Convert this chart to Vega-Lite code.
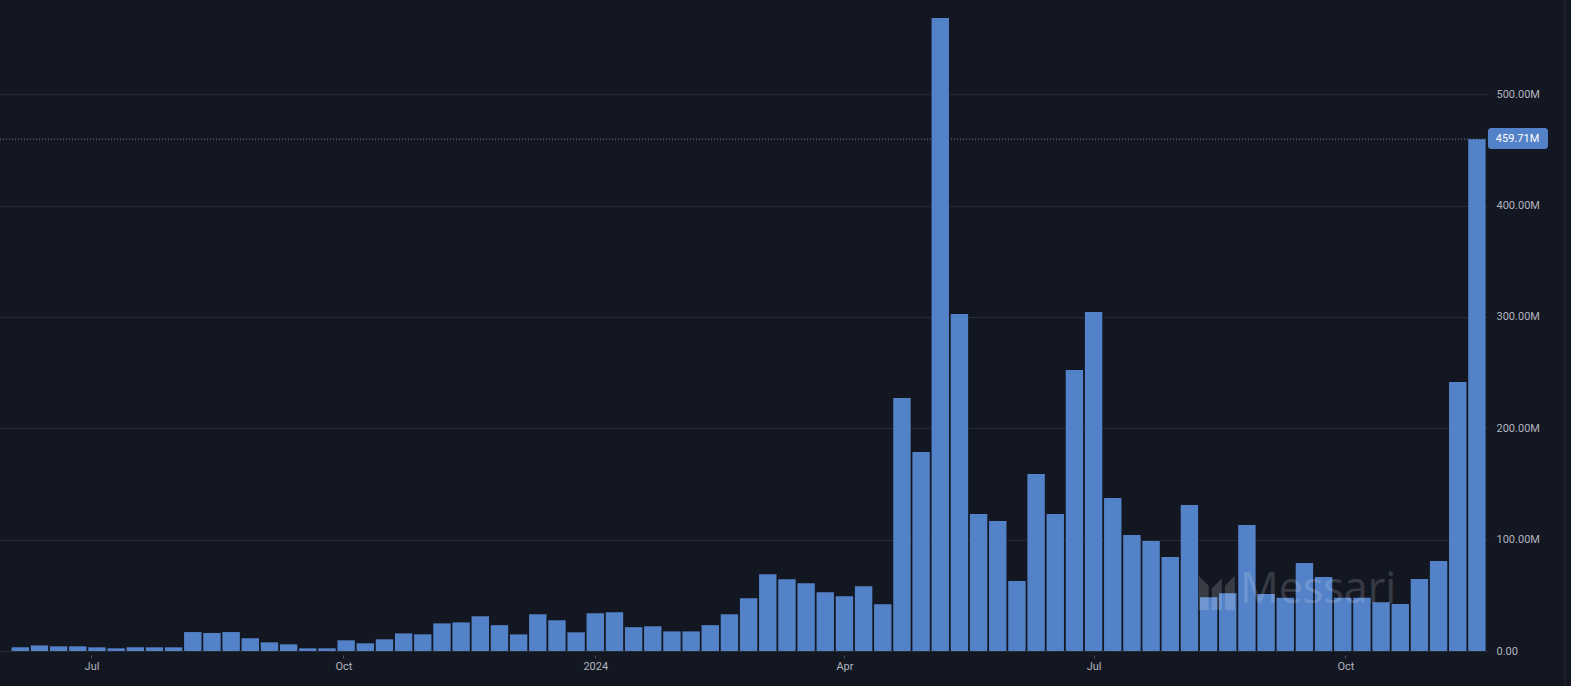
{
  "$schema": "https://vega.github.io/schema/vega-lite/v6.json",
  "width": 1489,
  "height": 651,
  "autosize": {"type": "none"},
  "padding": {"left": 0, "top": 0, "right": 82, "bottom": 35},
  "background": "#131722",
  "config": {
    "view": {"stroke": null},
    "axis": {"labelFont": "Roboto", "labelFontSize": 11, "labelColor": "#b2b5be", "title": null}
  },
  "layer": [
    {
      "data": {"values": [{"value": 459710000}]},
      "mark": {"type": "rule", "strokeDash": [1, 2], "color": "#9598a1", "opacity": 0.8, "strokeWidth": 1},
      "encoding": {"y": {"field": "value", "type": "quantitative"}}
    },
    {
      "data": {
        "values": [
          {"date": "2023-06-05", "value": 3300000},
          {"date": "2023-06-12", "value": 5000000},
          {"date": "2023-06-19", "value": 4200000},
          {"date": "2023-06-26", "value": 4200000},
          {"date": "2023-07-03", "value": 3300000},
          {"date": "2023-07-10", "value": 2400000},
          {"date": "2023-07-17", "value": 3300000},
          {"date": "2023-07-24", "value": 3300000},
          {"date": "2023-07-31", "value": 3300000},
          {"date": "2023-08-07", "value": 17000000},
          {"date": "2023-08-14", "value": 16200000},
          {"date": "2023-08-21", "value": 17000000},
          {"date": "2023-08-28", "value": 11500000},
          {"date": "2023-09-04", "value": 7800000},
          {"date": "2023-09-11", "value": 6000000},
          {"date": "2023-09-18", "value": 2400000},
          {"date": "2023-09-25", "value": 2400000},
          {"date": "2023-10-02", "value": 9600000},
          {"date": "2023-10-09", "value": 6900000},
          {"date": "2023-10-16", "value": 10500000},
          {"date": "2023-10-23", "value": 15800000},
          {"date": "2023-10-30", "value": 15000000},
          {"date": "2023-11-06", "value": 24800000},
          {"date": "2023-11-13", "value": 25700000},
          {"date": "2023-11-20", "value": 31200000},
          {"date": "2023-11-27", "value": 23200000},
          {"date": "2023-12-04", "value": 14900000},
          {"date": "2023-12-11", "value": 33000000},
          {"date": "2023-12-18", "value": 27600000},
          {"date": "2023-12-25", "value": 16800000},
          {"date": "2024-01-01", "value": 33900000},
          {"date": "2024-01-08", "value": 34800000},
          {"date": "2024-01-15", "value": 21400000},
          {"date": "2024-01-22", "value": 22200000},
          {"date": "2024-01-29", "value": 17600000},
          {"date": "2024-02-05", "value": 17600000},
          {"date": "2024-02-12", "value": 23200000},
          {"date": "2024-02-19", "value": 33000000},
          {"date": "2024-02-26", "value": 47400000},
          {"date": "2024-03-04", "value": 69000000},
          {"date": "2024-03-11", "value": 64500000},
          {"date": "2024-03-18", "value": 60900000},
          {"date": "2024-03-25", "value": 52800000},
          {"date": "2024-04-01", "value": 49200000},
          {"date": "2024-04-08", "value": 58200000},
          {"date": "2024-04-15", "value": 42000000},
          {"date": "2024-04-22", "value": 227200000},
          {"date": "2024-04-29", "value": 178700000},
          {"date": "2024-05-06", "value": 568500000},
          {"date": "2024-05-13", "value": 302700000},
          {"date": "2024-05-20", "value": 123000000},
          {"date": "2024-05-27", "value": 116800000},
          {"date": "2024-06-03", "value": 62800000},
          {"date": "2024-06-10", "value": 159000000},
          {"date": "2024-06-17", "value": 123000000},
          {"date": "2024-06-24", "value": 252400000},
          {"date": "2024-07-01", "value": 304500000},
          {"date": "2024-07-08", "value": 137400000},
          {"date": "2024-07-15", "value": 104200000},
          {"date": "2024-07-22", "value": 98800000},
          {"date": "2024-07-29", "value": 84400000},
          {"date": "2024-08-05", "value": 131100000},
          {"date": "2024-08-12", "value": 48200000},
          {"date": "2024-08-19", "value": 51800000},
          {"date": "2024-08-26", "value": 113200000},
          {"date": "2024-09-02", "value": 51200000},
          {"date": "2024-09-09", "value": 47800000},
          {"date": "2024-09-16", "value": 79000000},
          {"date": "2024-09-23", "value": 66500000},
          {"date": "2024-09-30", "value": 47800000},
          {"date": "2024-10-07", "value": 47800000},
          {"date": "2024-10-14", "value": 43800000},
          {"date": "2024-10-21", "value": 42200000},
          {"date": "2024-10-28", "value": 64700000},
          {"date": "2024-11-04", "value": 80900000},
          {"date": "2024-11-11", "value": 241600000},
          {"date": "2024-11-18", "value": 459710000}
        ]
      },
      "mark": {"type": "bar", "width": 17.4, "color": "#5482c8", "clip": true},
      "encoding": {
        "x": {
          "field": "date",
          "type": "temporal",
          "scale": {
            "type": "utc",
            "domain": [
              {"year": 2023, "month": 5, "date": 28, "hours": 14, "utc": true},
              {"year": 2024, "month": 11, "date": 22, "hours": 10, "utc": true}
            ],
            "nice": false,
            "padding": 0
          },
          "axis": {
            "title": null,
            "domain": false,
            "grid": false,
            "ticks": true,
            "tickSize": 3,
            "tickColor": "#50535e",
            "offset": 4,
            "labelPadding": 2,
            "labelBaseline": "top",
            "values": [
              {"year": 2023, "month": 7, "date": 1, "utc": true},
              {"year": 2023, "month": 10, "date": 1, "utc": true},
              {"year": 2024, "month": 1, "date": 1, "utc": true},
              {"year": 2024, "month": 4, "date": 1, "utc": true},
              {"year": 2024, "month": 7, "date": 1, "utc": true},
              {"year": 2024, "month": 10, "date": 1, "utc": true}
            ],
            "labelExpr": "utcmonth(datum.value) == 0 ? utcFormat(datum.value, '%Y') : utcFormat(datum.value, '%b')"
          }
        },
        "y": {
          "field": "value",
          "type": "quantitative",
          "scale": {"domain": [0, 584700000], "nice": false, "zero": true},
          "axis": {
            "title": null,
            "orient": "right",
            "domain": false,
            "ticks": false,
            "grid": true,
            "gridColor": "#252935",
            "gridWidth": 1,
            "labelPadding": 7,
            "labelAlign": "left",
            "labelBaseline": "middle",
            "values": [0, 100000000, 200000000, 300000000, 400000000, 500000000],
            "labelExpr": "datum.value == 0 ? '0.00' : format(datum.value / 1000000, '.2f') + 'M'"
          }
        }
      }
    },
    {
      "data": {"values": [{"label": "Messari", "date": "2024-09-21", "value": 55000000}]},
      "mark": {"type": "text", "font": "Open Sans", "fontSize": 43, "fontWeight": 500, "color": "#ffffff", "opacity": 0.15, "align": "center", "baseline": "middle"},
      "encoding": {
        "x": {"field": "date", "type": "temporal"},
        "y": {"field": "value", "type": "quantitative"},
        "text": {"field": "label"}
      }
    },
    {
      "data": {"values": [{"date": "2024-08-15", "value": 53000000}]},
      "mark": {"type": "point", "filled": true, "color": "#ffffff", "opacity": 0.16, "size": 1300,
        "shape": "M-1,1 L-1,-0.9 L-0.45,-0.35 L-0.45,1 Z M-0.28,1 L-0.28,-0.2 L0.28,-0.75 L0.28,1 Z M0.45,1 L0.45,-0.35 L1,-0.9 L1,1 Z"},
      "encoding": {
        "x": {"field": "date", "type": "temporal"},
        "y": {"field": "value", "type": "quantitative"}
      }
    },
    {
      "data": {"values": [{"start": "2024-11-22T01:00:00Z", "end": "2024-12-13T23:00:00Z", "top": 469700000, "bottom": 450900000}]},
      "mark": {"type": "rect", "color": "#5482c8", "cornerRadius": 3, "clip": false},
      "encoding": {
        "x": {"field": "start", "type": "temporal"},
        "x2": {"field": "end"},
        "y": {"field": "top", "type": "quantitative"},
        "y2": {"field": "bottom"}
      }
    },
    {
      "data": {"values": [{"label": "459.71M", "date": "2024-11-24T22:00:00Z", "value": 459710000}]},
      "mark": {"type": "text", "font": "Roboto", "fontSize": 11, "color": "#ffffff", "align": "left", "baseline": "middle", "clip": false},
      "encoding": {
        "x": {"field": "date", "type": "temporal"},
        "y": {"field": "value", "type": "quantitative"},
        "text": {"field": "label"}
      }
    },
    {
      "data": {"values": [{"date": "2024-12-20T05:00:00Z", "top": 584700000, "bottom": -32000000}]},
      "mark": {"type": "rule", "color": "#2a2e39", "clip": false, "strokeWidth": 1},
      "encoding": {
        "x": {"field": "date", "type": "temporal"},
        "y": {"field": "top", "type": "quantitative"},
        "y2": {"field": "bottom"}
      }
    }
  ]
}
